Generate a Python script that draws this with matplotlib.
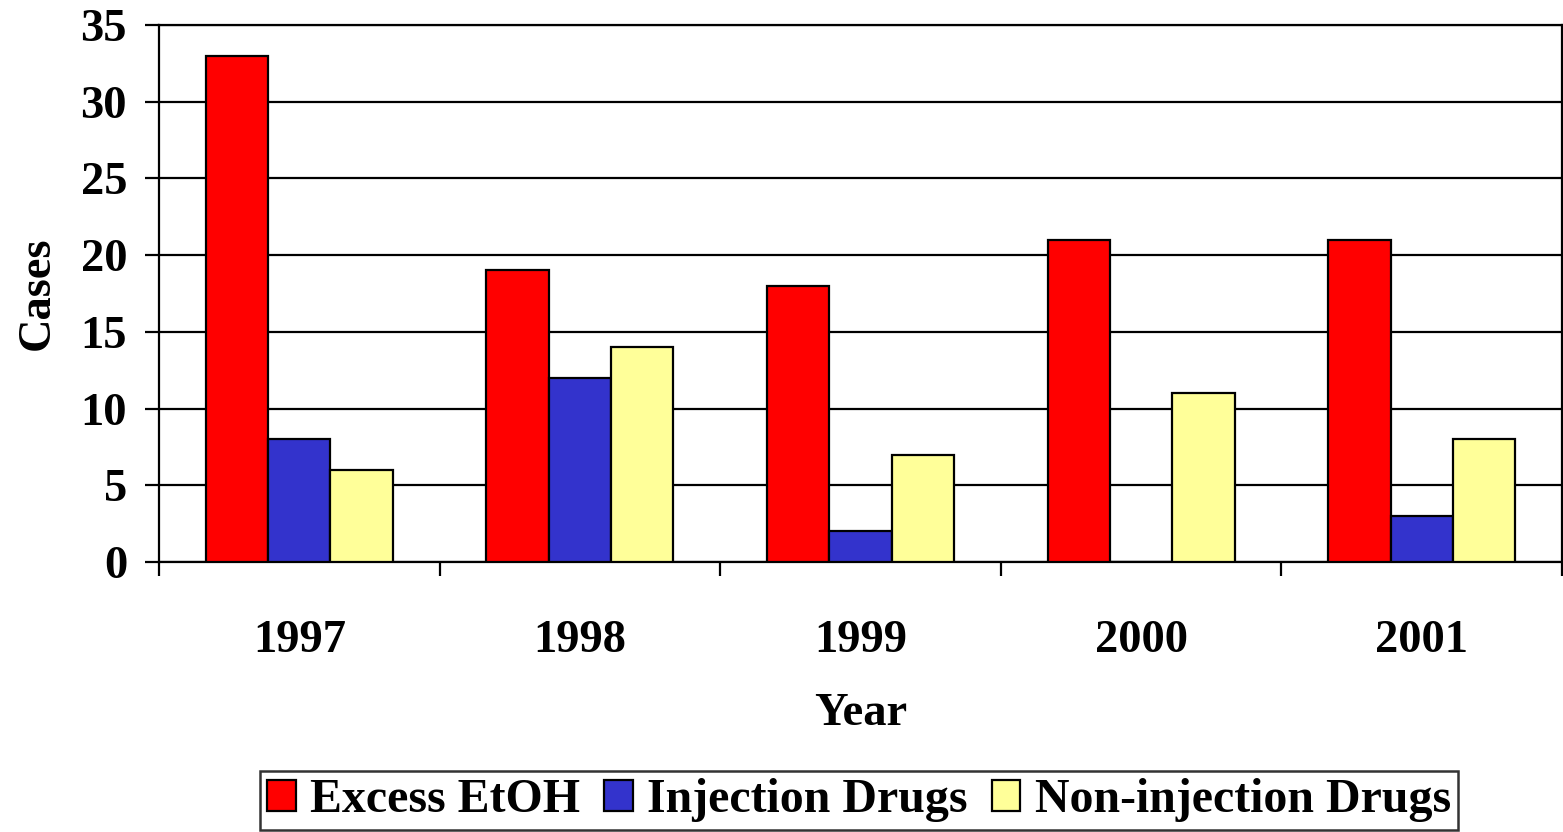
import matplotlib.pyplot as plt
import numpy as np

years = ['1997', '1998', '1999', '2000', '2001']
excess_etoh = [33, 19, 18, 21, 21]
injection_drugs = [8, 12, 2, 0, 3]
non_injection_drugs = [6, 14, 7, 11, 8]

series_names = ['Excess EtOH', 'Injection Drugs', 'Non-injection Drugs']
colors = ['#FF0000', '#3333CC', '#FFFF99']

plt.rcParams['font.family'] = ['Liberation Serif', 'DejaVu Serif']
plt.rcParams['font.weight'] = 'bold'

fig = plt.figure(figsize=(15.63, 8.32), dpi=100)
ax = fig.add_axes([0.1017, 0.3245, 0.8977, 0.6455])

x = np.arange(len(years))
width = 0.222
for i, (vals, name, col) in enumerate(zip(
        [excess_etoh, injection_drugs, non_injection_drugs], series_names, colors)):
    ax.bar(x + (i - 1) * width, vals, width, color=col, edgecolor='black',
           linewidth=1.6, label=name, zorder=3)

ax.set_xlim(-0.5, len(years) - 0.5)
ax.set_ylim(0, 35)
ax.set_yticks(range(0, 36, 5))
ax.yaxis.grid(True, color='black', linewidth=1.6, zorder=0)

ax.set_xticks(x)
ax.set_xticklabels(years, fontsize=33.5, fontweight='bold')
ax.set_xticks(np.arange(-0.5, len(years)), minor=True)
ax.tick_params(axis='x', which='major', length=0, pad=42)
ax.tick_params(axis='x', which='minor', length=10, width=1.6, direction='out')
ax.tick_params(axis='y', length=10, width=1.6, direction='out', labelsize=33.5, pad=13)
for lbl in ax.get_yticklabels():
    lbl.set_fontweight('bold')

for sp in ax.spines.values():
    sp.set_linewidth(1.6)

ax.set_ylabel('Cases', fontsize=33.5, fontweight='bold', labelpad=16)
ax.set_xlabel('Year', fontsize=33.5, fontweight='bold', labelpad=22)

leg = fig.legend(loc='lower center', bbox_to_anchor=(0.5496, 0.0), ncol=3,
                 fontsize=34.5, frameon=True, fancybox=False, edgecolor='black',
                 handlelength=0.6, handleheight=0.6, handletextpad=0.3,
                 columnspacing=0.5, borderpad=0.15, borderaxespad=0.05)
leg.get_frame().set_linewidth(1.8)
for t in leg.get_texts():
    t.set_fontweight('bold')

fig.savefig('out.png', dpi=100)
